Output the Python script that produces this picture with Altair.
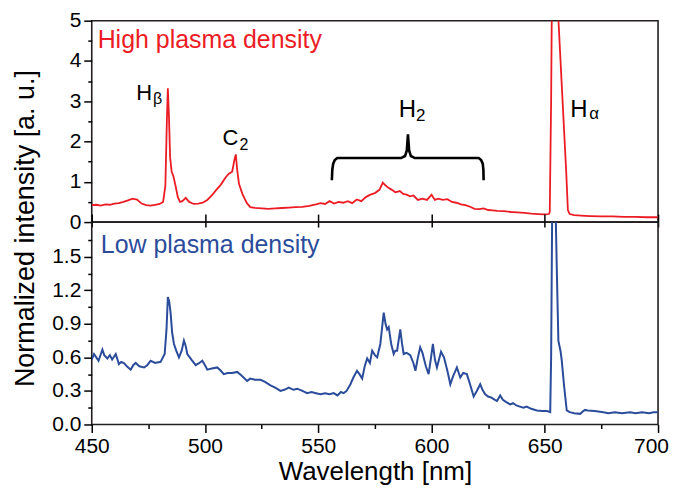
import altair as alt
import pandas as pd

FONT = "Liberation Sans"
RED = "#ec1c24"
BLUE = "#2b4c9b"
FRAME = "#231f20"

# ---------------- data ----------------
wavelength_high = [450, 452, 454, 456, 458, 460, 462, 464, 466, 468, 470, 472, 474, 476, 478, 480,
                   481.5, 482.5, 483.2, 483.6, 484.1, 484.6, 485.3, 486, 487, 488, 489, 490, 491.5, 493,
                   495, 497, 499, 501, 503, 505, 507, 509, 510.5, 512, 513, 513.6, 514.2, 515, 516.5,
                   517.5, 518.5, 520, 522, 525, 528, 531, 534, 537, 540, 543, 546, 549, 551, 553, 555,
                   557, 559, 561, 563, 565, 567, 569, 571, 573, 575, 577, 578.5, 579.5, 581, 582.5, 584,
                   586, 587.5, 589, 590.5, 592, 594, 596, 598, 600, 601.5, 603, 605, 607, 609, 611, 613,
                   615, 617, 619, 621, 623, 625, 627, 629, 632, 635, 638, 641, 644, 647, 650, 651.8,
                   652.2, 652.8, 653.2, 654.0, 655.5, 656.5, 657.5, 658.5, 659.5, 660.2, 661, 663, 666,
                   670, 675, 680, 685, 690, 695, 700]
intensity_high = [0.42, 0.43, 0.41, 0.44, 0.43, 0.46, 0.47, 0.50, 0.54, 0.58, 0.56, 0.46, 0.42, 0.41, 0.43, 0.45,
                  0.50, 0.90, 2.60, 3.32, 2.60, 1.60, 1.25, 1.15, 0.90, 0.62, 0.50, 0.52, 0.60, 0.50,
                  0.45, 0.46, 0.48, 0.55, 0.66, 0.80, 0.93, 1.10, 1.20, 1.25, 1.55, 1.68, 1.30, 0.95, 0.70,
                  0.58, 0.47, 0.37, 0.35, 0.34, 0.33, 0.34, 0.35, 0.36, 0.37, 0.38, 0.40, 0.44, 0.47, 0.45, 0.52,
                  0.46, 0.50, 0.48, 0.52, 0.47, 0.56, 0.52, 0.62, 0.68, 0.72, 0.80, 0.98, 0.92, 0.85, 0.80, 0.74,
                  0.77, 0.70, 0.68, 0.64, 0.66, 0.55, 0.58, 0.55, 0.68, 0.55, 0.58, 0.55, 0.57, 0.50, 0.48, 0.44,
                  0.42, 0.38, 0.33, 0.32, 0.34, 0.30, 0.29, 0.28, 0.27, 0.25, 0.24, 0.23, 0.21, 0.20, 0.19, 0.20,
                  0.25, 3.0, 6.0, 8.0, 5.6, 4.5, 3.4, 2.3, 1.2, 0.30, 0.20, 0.17, 0.16,
                  0.15, 0.14, 0.14, 0.13, 0.13, 0.12, 0.12]

wavelength_low = [450, 451, 452, 453, 454.7, 455.5, 456.9, 458, 459, 460.6, 462, 463, 464.2, 465.5, 467.2,
                  468.3, 469.4, 471, 473.1, 474.5, 476, 478, 480.4, 482.2, 483, 483.6, 484.2, 484.8, 485.5,
                  486.3, 487.3, 488.5, 489.7, 490.7, 491.5, 492.2, 494, 495.9, 497.5, 498.8, 500, 501, 503,
                  505.4, 507, 508.3, 510, 512, 514.2, 516, 518.6, 520, 522, 524.5, 526.5, 528.9, 531, 533.3,
                  535, 537, 539, 540.7, 543, 545.1, 547, 549, 551, 553, 555, 556.8, 558.5, 560, 561.2, 562.5,
                  564.2, 565.5, 567.1, 568.2, 569.4, 570.5, 571.6, 572.8, 573.8, 575, 576, 577.4, 578.9,
                  579.7, 580.4, 581.1, 582.2, 583.3, 584.0, 584.8, 586.2, 587.0, 587.7, 589, 590.6, 592,
                  592.9, 594, 595, 596, 597.5, 598.7, 599.8, 600.6, 601.5, 602.4, 603.3, 604.2, 605.5, 607,
                  608.3, 609.5, 611.2, 612.7, 614, 615.6, 617, 618.6, 620, 621.5, 622.5, 623.7, 625, 626.5,
                  628, 628.9, 630.3, 631.5, 633, 634.7, 636, 637.5, 639, 640.6, 642, 644, 646.5, 649, 651,
                  652.4, 652.8, 653.3, 654.2, 654.8, 655.4, 656.0, 657.0, 657.5, 658.5, 659.7, 661, 663,
                  665.6, 667, 667.8, 669, 672, 675.9, 678, 681, 684, 687.7, 690, 693, 696, 698, 700]
intensity_low = [0.58, 0.63, 0.60, 0.57, 0.67, 0.62, 0.59, 0.62, 0.58, 0.63, 0.54, 0.56, 0.55, 0.52, 0.49,
                 0.53, 0.55, 0.52, 0.51, 0.53, 0.57, 0.55, 0.56, 0.63, 0.85, 1.14, 1.10, 1.00, 0.82,
                 0.72, 0.66, 0.60, 0.66, 0.75, 0.70, 0.63, 0.58, 0.53, 0.55, 0.57, 0.53, 0.49, 0.50,
                 0.51, 0.48, 0.45, 0.46, 0.46, 0.47, 0.44, 0.39, 0.41, 0.40, 0.40, 0.38, 0.35, 0.33, 0.30,
                 0.31, 0.33, 0.31, 0.32, 0.30, 0.28, 0.29, 0.28, 0.27, 0.28, 0.27, 0.28, 0.26, 0.29, 0.28, 0.30,
                 0.36, 0.42, 0.48, 0.45, 0.41, 0.52, 0.59, 0.55, 0.66, 0.62, 0.60, 0.72, 1.00,
                 0.90, 0.85, 0.87, 0.72, 0.63, 0.66, 0.66, 0.85, 0.72, 0.63, 0.64, 0.62, 0.55,
                 0.48, 0.60, 0.69, 0.64, 0.52, 0.45, 0.60, 0.72, 0.58, 0.51, 0.58, 0.65, 0.60, 0.48,
                 0.36, 0.43, 0.51, 0.42, 0.46, 0.45, 0.36, 0.25, 0.30, 0.36, 0.31, 0.27, 0.25, 0.24,
                 0.22, 0.21, 0.26, 0.22, 0.20, 0.18, 0.19, 0.17, 0.16, 0.15, 0.16, 0.14, 0.125, 0.12, 0.12,
                 0.11, 0.60, 2.00, 2.40, 1.90, 1.30, 0.75, 0.65, 0.57, 0.35, 0.125, 0.11, 0.10,
                 0.095, 0.12, 0.13, 0.125, 0.12, 0.11, 0.10, 0.11, 0.10, 0.11, 0.10, 0.11, 0.10, 0.11, 0.11]

x_major = [450, 500, 550, 600, 650, 700]
x_minor = [475, 525, 575, 625, 675]
y_major_high = [0, 1, 2, 3, 4, 5]
y_minor_high = [0.5, 1.5, 2.5, 3.5, 4.5]
y_major_low = [0.0, 0.3, 0.6, 0.9, 1.2, 1.5]
y_minor_low = [0.15, 0.45, 0.75, 1.05, 1.35, 1.65]

panel_labels = ["High plasma density", "Low plasma density"]
panel_label_x = [452.6, 454.0]
panel_label_y = [4.33, 1.53]

peak_labels = ["H", "C", "H", "H"]
peak_x = [473.1, 511.2, 589.3, 665.1]
peak_y = [3.04, 1.92, 2.62, 2.62]
peak_size = [22, 22, 24, 24]
sub_labels = ["β", "2", "2", "α"]
sub_x = [479.1, 517.2, 595.2, 671.8]
sub_y = [2.92, 1.78, 2.50, 2.55]
sub_size = [16, 16, 17, 17]

brace_x = [556.0, 556.2, 556.6, 557.3, 558.4, 586.6, 588.3, 589.1, 589.6, 590.1, 590.9, 592.6,
           620.8, 621.9, 622.6, 622.9, 623.0]
brace_y = [1.04, 1.30, 1.45, 1.54, 1.59, 1.59, 1.64, 1.78, 2.18, 1.78, 1.64, 1.59,
           1.59, 1.54, 1.45, 1.30, 1.04]

# ---------------- tables ----------------
high_df = pd.DataFrame({"wl": wavelength_high, "v": intensity_high})
low_df = pd.DataFrame({"wl": wavelength_low, "v": intensity_low})
peak_df = pd.DataFrame({"x": peak_x, "y": peak_y, "t": peak_labels, "s": peak_size})
sub_df = pd.DataFrame({"x": sub_x, "y": sub_y, "t": sub_labels, "s": sub_size})
brace_df = pd.DataFrame({"x": brace_x, "y": brace_y, "i": list(range(len(brace_x)))})
hl_df = pd.DataFrame({"x": [panel_label_x[0]], "y": [panel_label_y[0]], "t": [panel_labels[0]]})
ll_df = pd.DataFrame({"x": [panel_label_x[1]], "y": [panel_label_y[1]], "t": [panel_labels[1]]})

W = 568
xs = alt.Scale(domain=[450, 700], nice=False, zero=False)
ys_top = alt.Scale(domain=[0, 5], nice=False, zero=False)
ys_bot = alt.Scale(domain=[0, 1.81], nice=False, zero=False)

common = dict(domain=False, grid=False, title=None)

# ---------------- top panel ----------------
top_line = alt.Chart(high_df).mark_line(color=RED, strokeWidth=1.8, clip=True).encode(
    x=alt.X("wl:Q", scale=xs, axis=alt.Axis(values=x_major, labels=False, ticks=True, tickSize=5,
                                           orient="bottom", **common)),
    y=alt.Y("v:Q", scale=ys_top, axis=alt.Axis(values=y_major_high, format="d", tickSize=8, orient="left",
                                              labelPadding=3, labelFlush=False, **common)),
)
top_label = alt.Chart(hl_df).mark_text(align="left", baseline="alphabetic", font=FONT,
                                       fontSize=25, color=RED).encode(
    x=alt.X("x:Q", scale=xs, axis=None),
    y=alt.Y("y:Q", scale=ys_top, axis=alt.Axis(values=y_minor_high, labels=False, tickSize=4,
                                              orient="left", **common)),
    text="t:N",
)
peaks = alt.Chart(peak_df).mark_text(align="center", baseline="alphabetic", font=FONT, color="black").encode(
    x=alt.X("x:Q", scale=xs, axis=None),
    y=alt.Y("y:Q", scale=ys_top, axis=None),
    text="t:N",
    size=alt.Size("s:Q", scale=None),
)
subs = alt.Chart(sub_df).mark_text(align="center", baseline="alphabetic", font=FONT, color="black").encode(
    x=alt.X("x:Q", scale=xs, axis=None),
    y=alt.Y("y:Q", scale=ys_top, axis=None),
    text="t:N",
    size=alt.Size("s:Q", scale=None),
)
brace = alt.Chart(brace_df).mark_line(color="black", strokeWidth=2.6).encode(
    x=alt.X("x:Q", scale=xs, axis=None),
    y=alt.Y("y:Q", scale=ys_top, axis=None),
    order="i:Q",
)
top = alt.layer(top_line, top_label, peaks, subs, brace).resolve_axis(
    x="independent", y="independent").properties(width=W, height=202)

# ---------------- bottom panel ----------------
bot_line = alt.Chart(low_df).mark_line(color=BLUE, strokeWidth=2.0, clip=True).encode(
    x=alt.X("wl:Q", scale=xs, axis=alt.Axis(values=x_major, tickSize=8, labelPadding=3, labelFlush=False,
                                           labelOffset=alt.condition("datum.value == 700", alt.value(-7), alt.value(0)),
                                           orient="bottom", domain=False, grid=False,
                                           title="Wavelength [nm]", titlePadding=2, titleFontSize=26)),
    y=alt.Y("v:Q", scale=ys_bot, axis=alt.Axis(values=y_major_low, format=".1f", tickSize=8, orient="left",
                                              labelPadding=3, labelFlush=False, domain=False, grid=False,
                                              title="Normalized intensity [a. u.]", titleX=-66, titleY=6,
                                              titleAngle=270, titleAlign="center", titleBaseline="middle",
                                              titleFontSize=27)),
)
bot_label = alt.Chart(ll_df).mark_text(align="left", baseline="alphabetic", font=FONT,
                                       fontSize=25, color=BLUE).encode(
    x=alt.X("x:Q", scale=xs, axis=alt.Axis(values=x_minor, labels=False, tickSize=4, orient="bottom", **common)),
    y=alt.Y("y:Q", scale=ys_bot, axis=alt.Axis(values=y_minor_low, labels=False, tickSize=4,
                                              orient="left", **common)),
    text="t:N",
)
bot_ghost = alt.Chart(low_df).mark_line(strokeOpacity=0).encode(
    x=alt.X("wl:Q", scale=xs, axis=alt.Axis(values=x_major, labels=False, tickSize=8, orient="top", **common)),
    y=alt.Y("v:Q", scale=ys_bot, axis=None),
)
bottom = alt.layer(bot_line, bot_label, bot_ghost).resolve_axis(
    x="independent", y="independent").properties(width=W, height=203)

chart = alt.vconcat(top, bottom, spacing=0, bounds="flush").properties(
    padding={"left": 3, "top": 0, "right": 0, "bottom": 2}
).configure_view(stroke=FRAME, strokeWidth=1.6).configure_axis(
    labelFont=FONT, titleFont=FONT, labelFontSize=21, labelColor="black", titleColor="black",
    tickColor="black", tickWidth=1.5, titleFontWeight="normal"
)

chart.save("out.html", embed_options={"renderer": "svg", "actions": False})
